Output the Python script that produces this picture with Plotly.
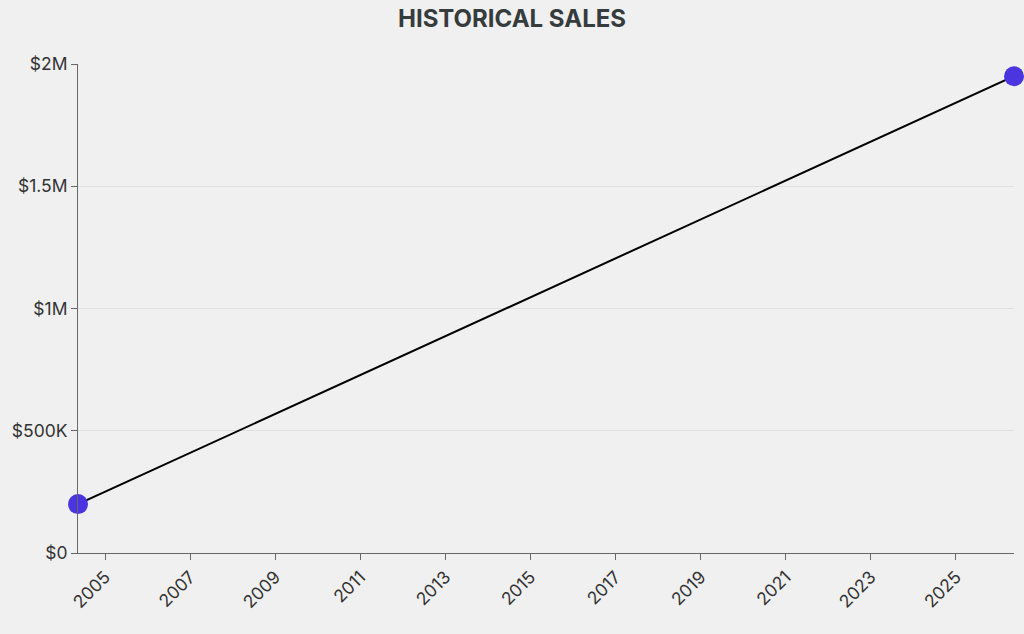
import plotly.graph_objects as go

# data
dates = ["2004-05-14", "2026-05-14"]
sales = [200000, 1950000]

y_ticks = [0, 500000, 1000000, 1500000, 2000000]
y_labels = ["$0", "$500K", "$1M", "$1.5M", "$2M"]

fig = go.Figure()
fig.add_trace(go.Scatter(
    x=dates, y=sales,
    mode="lines+markers",
    line=dict(color="#000000", width=2),
    marker=dict(color="#4a35e0", size=20),
    cliponaxis=False,
))

fig.update_layout(
    width=1024, height=634,
    paper_bgcolor="#f0f0f0", plot_bgcolor="#f0f0f0",
    font=dict(family="Inter", size=17.5, color="#333333"),
    title=dict(text="<b>HISTORICAL SALES</b>", x=0.5, xanchor="center",
               y=0.971, yanchor="middle",
               font=dict(family="Inter", size=24, color="#363b3e")),
    margin=dict(l=78, r=10, t=64, b=81),
    showlegend=False,
)
fig.update_xaxes(
    type="date", range=[dates[0], dates[-1]],
    tick0="2005-01-01", dtick="M24", tickformat="%Y",
    tickangle=-45, showgrid=False, zeroline=False,
    showline=True, linecolor="#666666", linewidth=1,
    ticks="outside", ticklen=6, tickcolor="#666666",
)
fig.update_yaxes(
    range=[0, 2000000], tickvals=y_ticks, ticktext=y_labels,
    showgrid=True, gridcolor="#e0e0e0", zeroline=False,
    showline=True, linecolor="#666666", linewidth=1,
    ticks="outside", ticklen=6, tickcolor="#666666",
)

fig.write_html("out.html", config={"displayModeBar": False},
               post_script="document.body.style.margin='0';document.body.style.background='#f0f0f0';")
